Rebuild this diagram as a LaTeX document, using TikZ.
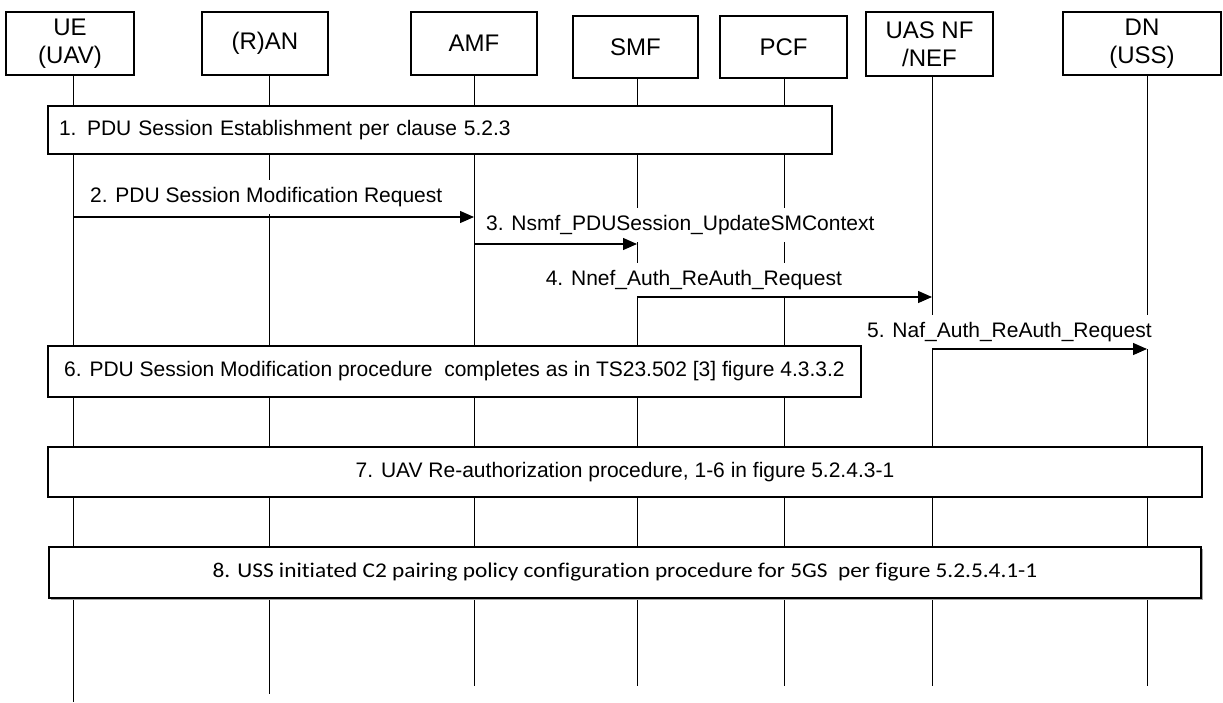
\documentclass[tikz,border=0pt]{standalone}
\usepackage{fontspec}
\setmainfont{Liberation Sans}
\newfontfamily\calfont[Ligatures=NoCommon]{Carlito}
\usetikzlibrary{arrows.meta,shadows}
\begin{document}
\begin{tikzpicture}[x=1pt,y=-1pt,
  hdr/.style={draw,line width=1.3pt,fill=white,align=center,inner sep=0pt,
    font=\fontsize{24}{28}\selectfont},
  life/.style={line width=0.9pt},
  procbox/.style={draw,line width=1.3pt,fill=white,inner sep=0pt,
    font=\fontsize{21}{25}\selectfont},
  msg/.style={line width=1.3pt,-{Triangle[length=14pt,width=12pt]}},
  lbl/.style={fill=white,inner xsep=3pt,inner ysep=0pt,minimum height=34pt,
    anchor=west,font=\fontsize{21}{25}\selectfont}]
\useasboundingbox[fill=white] (0,0) rectangle (1223,702);
% lifeline bottoms
\coordinate (ueE) at (73,702);
\coordinate (ranE) at (269,694);
\coordinate (amfE) at (474,686);
\coordinate (smfE) at (637,686);
\coordinate (pcfE) at (784,686);
\coordinate (uasE) at (932,686);
\coordinate (dnE) at (1147,686);
% headers
\node[hdr,minimum width=128pt,minimum height=63pt] (ue) at (70,43.5) {UE\\(UAV)};
\node[hdr,minimum width=126pt,minimum height=63pt] (ran) at (265,43.5) {(R)AN};
\node[hdr,minimum width=126pt,minimum height=63pt] (amf) at (474,43.5) {AMF};
\node[hdr,minimum width=125pt,minimum height=62pt] (smf) at (635.5,47) {SMF};
\node[hdr,minimum width=127pt,minimum height=62pt] (pcf) at (783.5,47) {PCF};
\node[hdr,minimum width=127pt,minimum height=64pt] (uas) at (929.5,44) {UAS NF\\/NEF};
\node[hdr,minimum width=158pt,minimum height=63pt] (dn) at (1142,43.5) {DN\\(USS)};
% lifelines
\draw[life] (ue.south -| ueE) -- (ueE);
\draw[life] (ran.south -| ranE) -- (ranE);
\draw[life] (amf.south -| amfE) -- (amfE);
\draw[life] (smf.south -| smfE) -- (smfE);
\draw[life] (pcf.south -| pcfE) -- (pcfE);
\draw[life] (uas.south -| uasE) -- (uasE);
\draw[life] (dn.south -| dnE) -- (dnE);
% boxes
\node[procbox,minimum width=784pt,minimum height=48pt,text width=762pt,inner xsep=11pt,align=left] (b1) at (440,130) {1. PDU Session Establishment per clause 5.2.3};
\node[procbox,minimum width=813pt,minimum height=51pt,align=center] (b6) at (454.5,371.5) {6. PDU Session Modification procedure\ \ completes as in TS23.502 [3] figure 4.3.3.2};
\node[procbox,minimum width=1154pt,minimum height=50pt,align=center] (b7) at (625,472) {7. UAV Re-authorization procedure, 1-6 in figure 5.2.4.3-1};
\node[procbox,minimum width=1152pt,minimum height=51pt,align=center,
  drop shadow={shadow xshift=1.5pt,shadow yshift=-1.5pt,fill=gray!70,opacity=1}] (b8) at (625,572.5)
  {\calfont\fontsize{21}{25}\selectfont\scalebox{1.11}[1]{8. USS initiated C2 pairing policy configuration procedure for 5GS\ \ per figure 5.2.5.4.1-1}};
% message labels
\node[lbl] (l2) at (87,197) {2. PDU Session Modification Request};
\node[lbl] (l3) at (483,225) {3. Nsmf\_PDUSession\_UpdateSMContext};
\node[lbl] (l4) at (542.6,280) {4. Nnef\_Auth\_ReAuth\_Request};
\node[lbl] (l5) at (864,332) {5. Naf\_Auth\_ReAuth\_Request};
% message anchors
\coordinate (m2s) at (73,217);   \coordinate (m2e) at (474,217);
\coordinate (m3s) at (474,244);  \coordinate (m3e) at (637,244);
\coordinate (m4s) at (637,297);  \coordinate (m4e) at (932,297);
\coordinate (m5s) at (932,349);  \coordinate (m5e) at (1147,349);
\draw[msg] (m2s) -- (m2e);
\draw[msg] (m3s) -- (m3e);
\draw[msg] (m4s) -- (m4e);
\draw[msg] (m5s) -- (m5e);
\end{tikzpicture}
\end{document}
